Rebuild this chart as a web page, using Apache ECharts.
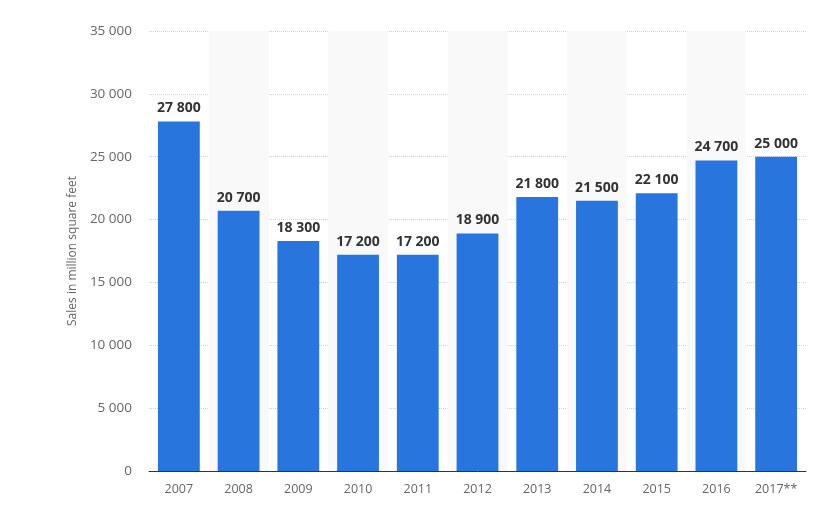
<!DOCTYPE html>
<html>
<head>
<meta charset="utf-8">
<script src="https://cdn.jsdelivr.net/npm/echarts@6/dist/echarts.min.js"></script>
<style>
  html, body { margin: 0; padding: 0; background: #fff; }
  #chart { width: 833px; height: 513px; }
</style>
</head>
<body>
<div id="chart"></div>
<script>
// data
var years = ['2007', '2008', '2009', '2010', '2011', '2012', '2013', '2014', '2015', '2016', '2017**'];
var sales = [27800, 20700, 18300, 17200, 17200, 18900, 21800, 21500, 22100, 24700, 25000];
var yTicks = [0, 5000, 10000, 15000, 20000, 25000, 30000, 35000];

// 27800 -> "27 800"
function fmt(v) {
  return String(v).replace(/\B(?=(\d{3})+(?!\d))/g, ' ');
}

var myChart = echarts.init(document.getElementById('chart'));
var option = {
  animation: false,
  textStyle: { fontFamily: 'Open Sans' },
  grid: { left: 149, right: 27, top: 31, bottom: 42 },
  xAxis: {
    type: 'category',
    data: years,
    axisLine: { lineStyle: { color: '#333', width: 1 } },
    axisTick: { show: false },
    axisLabel: { color: '#666', fontSize: 12.5, margin: 12 },
    splitArea: { show: true, areaStyle: { color: ['rgba(0,0,0,0)', '#f9f9f9'] } }
  },
  yAxis: {
    type: 'value',
    min: yTicks[0],
    max: yTicks[yTicks.length - 1],
    interval: 5000,
    name: 'Sales in million square feet',
    nameLocation: 'middle',
    nameGap: 66,
    nameTextStyle: { color: '#666', fontSize: 12 },
    axisLine: { show: false },
    axisTick: { show: false },
    axisLabel: { color: '#666', fontSize: 13.5, margin: 17, formatter: fmt },
    splitLine: { lineStyle: { color: '#d0d0d0', type: 'dotted', width: 1 } }
  },
  series: [{
    type: 'bar',
    data: sales,
    barCategoryGap: '30%',
    itemStyle: { color: '#2876dd' },
    label: {
      show: true,
      position: 'top',
      distance: 6,
      color: '#333',
      fontWeight: 'bold',
      fontSize: 14,
      formatter: function (p) { return fmt(p.value); }
    }
  }]
};
myChart.setOption(option);
</script>
</body>
</html>
